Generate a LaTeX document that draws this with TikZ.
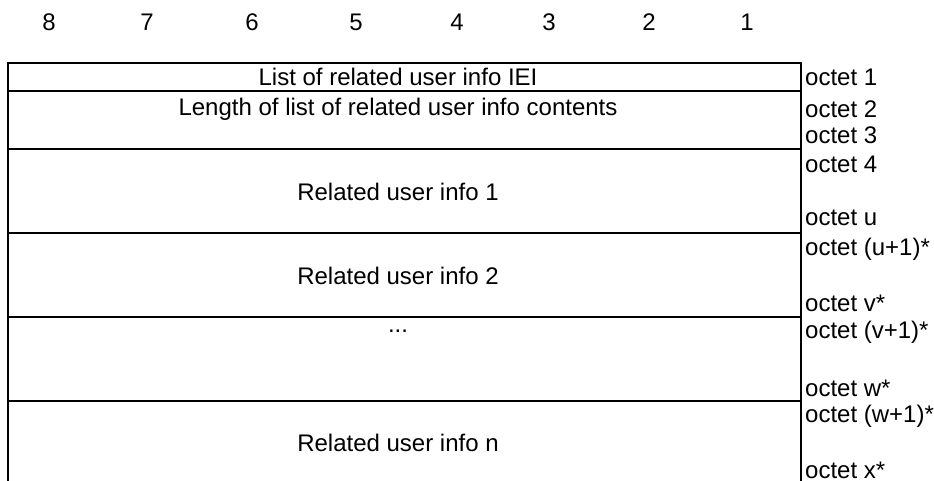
\documentclass[tikz,border=0pt]{standalone}
\usepackage{fontspec}
\setmainfont{Liberation Sans}
\begin{document}
\begin{tikzpicture}[x=1pt,y=-1pt,
  lbl/.style={inner sep=0pt,font=\fontsize{24}{28}\selectfont},
  oct/.style={lbl,anchor=west},
  frame/.style={line width=2pt}]
\useasboundingbox (0,0) rectangle (934,481);
\clip (0,0) rectangle (934,481);
% bit numbers
\foreach \x/\n in {49/8,147/7,252/6,356/5,457/4,549/3,649/2,747/1}
  \node[lbl] (b\n) at (\x,22) {\n};
% frame
\draw[frame] (8,495) -- (8,63) -- (801,63) -- (801,495);
\foreach \y in {91,149,233,317,401}
  \draw[frame] (8,\y) -- (801,\y);
% field texts
\node[lbl] (f1) at (398,77) {List of related user info IEI};
\node[lbl] (f2) at (398,109) {Length of list of related user info contents};
\node[lbl] (f3) at (398,192) {Related user info 1};
\node[lbl] (f4) at (398,276) {Related user info 2};
\node[lbl] (f5) at (398,331) {...};
\node[lbl] (f6) at (398,443) {Related user info n};
% octet labels
\node[oct] (o1) at (805,77) {octet 1};
\node[oct] (o2) at (805,109) {octet 2};
\node[oct] (o3) at (805,135) {octet 3};
\node[oct] (o4) at (805,164) {octet 4};
\node[oct] (ou) at (805,218) {octet u};
\node[oct] (ou1) at (805,249) {octet (u+1)*};
\node[oct] (ov) at (805,303) {octet v*};
\node[oct] (ov1) at (805,332) {octet (v+1)*};
\node[oct] (ow) at (805,388) {octet w*};
\node[oct] (ow1) at (805,416) {octet (w+1)*};
\node[oct] (ox) at (805,470) {octet x*};
\end{tikzpicture}
\end{document}
